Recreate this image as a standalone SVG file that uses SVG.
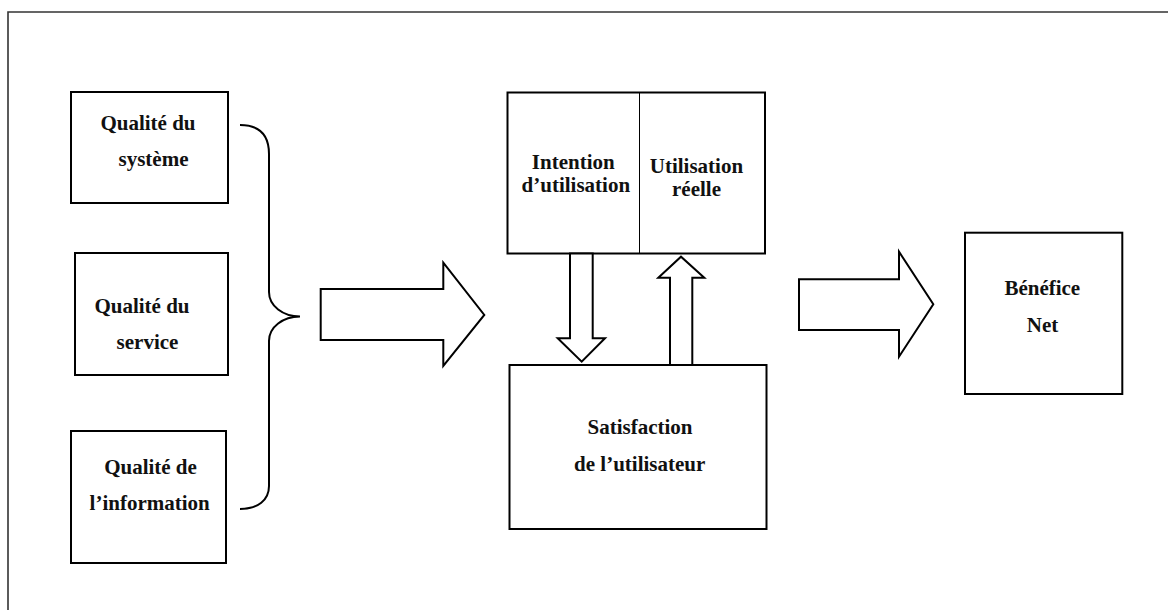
<svg xmlns="http://www.w3.org/2000/svg" width="1168" height="610" viewBox="0 0 1168 610">
  <style>
    .box { fill: #fff; stroke: #000; stroke-width: 2; }
    .arrow { fill: #fff; stroke: #000; stroke-width: 2; stroke-linejoin: miter; }
    .lbl { font-family: "Liberation Serif", "Times New Roman", serif; font-weight: bold; font-size: 21px; fill: #111; text-anchor: middle; }
  </style>
  <rect width="1168" height="610" fill="#fff"/>
  <!-- outer frame, running off the right and bottom edges -->
  <path d="M1170,12 L8,12 L8,612" fill="none" stroke="#333" stroke-width="1.6"/>

  <g id="qualite-systeme">
    <rect class="box" x="71" y="92" width="157" height="111"/>
    <text class="lbl" x="148" y="130">Qualité du</text>
    <text class="lbl" x="153.5" y="166">système</text>
  </g>

  <g id="qualite-service">
    <rect class="box" x="75" y="253" width="153" height="122"/>
    <text class="lbl" x="142" y="313">Qualité du</text>
    <text class="lbl" x="147.5" y="349">service</text>
  </g>

  <g id="qualite-information">
    <rect class="box" x="71" y="431" width="155" height="132"/>
    <text class="lbl" x="150.5" y="474">Qualité de</text>
    <text class="lbl" x="149.7" y="510">l’information</text>
  </g>

  <g id="utilisation">
    <rect class="box" x="507.5" y="92.5" width="257.5" height="161"/>
    <line x1="639.5" y1="92.5" x2="639.5" y2="253.5" stroke="#000" stroke-width="1"/>
    <text class="lbl" x="573.3" y="168.5">Intention</text>
    <text class="lbl" x="575.8" y="191.5">d’utilisation</text>
    <text class="lbl" x="696.4" y="172.8">Utilisation</text>
    <text class="lbl" x="696.5" y="195.5">réelle</text>
  </g>

  <g id="satisfaction">
    <rect class="box" x="509.5" y="365" width="257" height="164"/>
    <text class="lbl" x="640" y="434">Satisfaction</text>
    <text class="lbl" x="639.7" y="470.7">de  l’utilisateur</text>
  </g>

  <g id="benefice-net">
    <rect class="box" x="965" y="232.7" width="157.3" height="161.3"/>
    <text class="lbl" x="1042.3" y="295">Bénéfice</text>
    <text class="lbl" x="1042.5" y="331.7">Net</text>
  </g>

  <g id="connectors">
    <!-- brace gathering the three quality boxes -->
    <path d="M240,125 C258,125 269,134 269,154 L269,292 C269,306 283,316.5 300,316.5 C283,316.5 269,327 269,341 L269,486 C269,500 258,509 240,509" fill="none" stroke="#000" stroke-width="2"/>
    <!-- block arrow toward the usage box -->
    <path class="arrow" d="M320.7,289 L443.3,289 L443.3,262.7 L484.3,315 L443.3,366 L443.3,340 L320.7,340 Z"/>
    <!-- intention down to satisfaction -->
    <path class="arrow" d="M570,253.5 L592.7,253.5 L592.7,338.3 L605,338.3 L581.7,361.7 L557.7,338.3 L570,338.3 Z"/>
    <!-- satisfaction up to actual use -->
    <path class="arrow" d="M670,365 L670,277.7 L658.3,277.7 L681,256.7 L704.3,277.7 L692.3,277.7 L692.3,365 Z"/>
    <!-- block arrow toward net benefit -->
    <path class="arrow" d="M799,279.3 L899,279.3 L899,251.7 L933.3,304.3 L899,356.7 L899,330 L799,330 Z"/>
  </g>
</svg>
